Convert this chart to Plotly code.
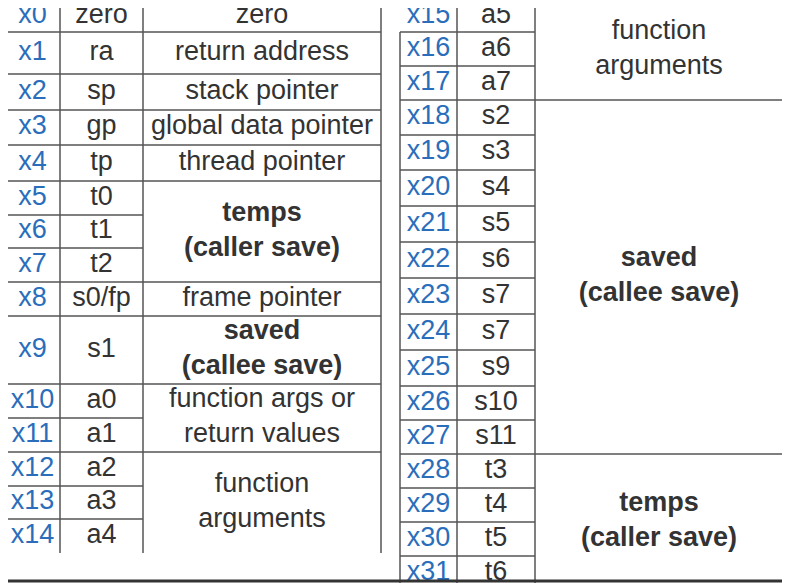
import plotly.graph_objects as go
import numpy as np

# register table data
left_regs = ["x0", "x1", "x2", "x3", "x4", "x5", "x6", "x7", "x8", "x9",
             "x10", "x11", "x12", "x13", "x14"]
left_abi = ["zero", "ra", "sp", "gp", "tp", "t0", "t1", "t2", "s0/fp", "s1",
            "a0", "a1", "a2", "a3", "a4"]
left_groups = ["zero", "return address", "stack pointer", "global data pointer",
               "thread pointer", "<b>temps</b><br><b>(caller save)</b>", "frame pointer",
               "<b>saved</b><br><b>(callee save)</b>", "function args or<br>return values",
               "function<br>arguments"]
left_group_rows = [1, 1, 1, 1, 1, 3, 1, 1, 2, 3]

right_regs = ["x15", "x16", "x17", "x18", "x19", "x20", "x21", "x22", "x23",
              "x24", "x25", "x26", "x27", "x28", "x29", "x30", "x31"]
right_abi = ["a5", "a6", "a7", "s2", "s3", "s4", "s5", "s6", "s7",
             "s7", "s9", "s10", "s11", "t3", "t4", "t5", "t6"]
right_groups = ["function<br>arguments", "<b>saved</b><br><b>(callee save)</b>",
                "<b>temps</b><br><b>(caller save)</b>"]
right_group_rows = [3, 10, 4]

# layout (pixel positions)
left_edges = [0, 32, 74, 110, 145, 181, 215, 248, 282, 316, 384, 418, 452, 486, 519, 553]
right_edges = [0, 32, 66, 100, 135, 170, 206, 242, 278, 314, 350, 386, 420, 454,
               488, 522, 556, 590]
left_cols = [5, 60, 143, 381]
right_cols = [400, 457, 535, 783]

BLUE = "#2a6ebb"
GREY = "#333333"
LINE = "#555555"
FONT = "Liberation Sans"
SIZE = 27
OFF = 8  # page body margin

fig = go.Figure()
shapes = []


def add_table(regs, abi, groups, group_rows, edges, cols):
    centers = [(edges[i] + edges[i + 1]) / 2 for i in range(len(regs))]
    fig.add_trace(go.Scatter(x=[(cols[0] + cols[1]) / 2] * len(regs), y=centers,
                             mode="text", text=regs,
                             textfont=dict(color=BLUE, size=SIZE, family=FONT)))
    fig.add_trace(go.Scatter(x=[(cols[1] + cols[2]) / 2] * len(regs), y=centers,
                             mode="text", text=abi,
                             textfont=dict(color=GREY, size=SIZE, family=FONT)))
    bounds = np.concatenate([[0], np.cumsum(group_rows)])
    gy = [(edges[bounds[i]] + edges[bounds[i + 1]]) / 2 for i in range(len(groups))]
    fig.add_trace(go.Scatter(x=[(cols[2] + cols[3]) / 2] * len(groups), y=gy,
                             mode="text", text=groups,
                             textfont=dict(color=GREY, size=SIZE, family=FONT)))
    for i in range(1, len(regs)):
        shapes.append(dict(type="line", x0=cols[0], x1=cols[2], y0=edges[i], y1=edges[i],
                           line=dict(color=LINE, width=1.5)))
    for b in bounds[1:-1]:
        shapes.append(dict(type="line", x0=cols[2], x1=cols[3], y0=edges[b], y1=edges[b],
                           line=dict(color=LINE, width=1.5)))


add_table(left_regs, left_abi, left_groups, left_group_rows, left_edges, left_cols)
add_table(right_regs, right_abi, right_groups, right_group_rows, right_edges, right_cols)

# vertical lines
for c in left_cols[1:]:
    shapes.append(dict(type="line", x0=c, x1=c, y0=0, y1=left_edges[-1],
                       line=dict(color=LINE, width=1.5)))
shapes.append(dict(type="line", x0=right_cols[0], x1=right_cols[0], y0=right_edges[1],
                   y1=583, line=dict(color=LINE, width=1.5)))
for c in right_cols[1:]:
    shapes.append(dict(type="line", x0=c, x1=c, y0=0, y1=583,
                       line=dict(color=LINE, width=1.5)))
shapes.append(dict(type="line", x0=0, x1=800, y0=581, y1=581,
                   line=dict(color="#333333", width=3)))

fig.update_layout(
    width=790, height=583, margin=dict(l=0, r=0, t=0, b=0),
    paper_bgcolor="white", plot_bgcolor="white", showlegend=False,
    xaxis=dict(range=[OFF, 790 + OFF], visible=False, fixedrange=True),
    yaxis=dict(range=[583 + OFF, OFF], visible=False, fixedrange=True),
    shapes=shapes,
)

fig.write_html("out.html")
